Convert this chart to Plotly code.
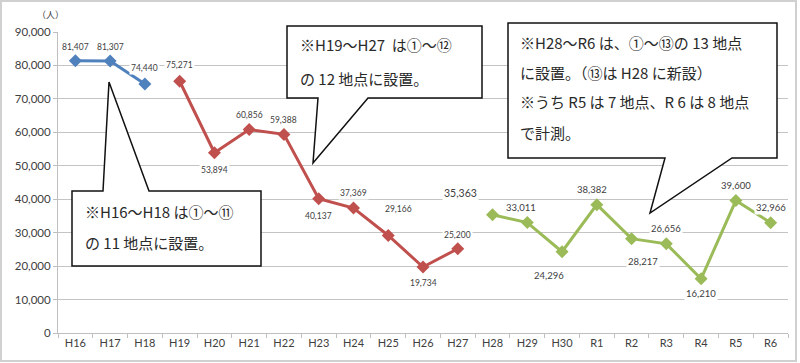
import plotly.graph_objects as go

categories = ["H16", "H17", "H18", "H19", "H20", "H21", "H22", "H23", "H24", "H25", "H26",
              "H27", "H28", "H29", "H30", "R1", "R2", "R3", "R4", "R5", "R6"]
blue_cats = ["H16", "H17", "H18"]
blue_vals = [81407, 81307, 74440]
red_cats = ["H19", "H20", "H21", "H22", "H23", "H24", "H25", "H26", "H27"]
red_vals = [75271, 53894, 60856, 59388, 40137, 37369, 29166, 19734, 25200]
green_cats = ["H28", "H29", "H30", "R1", "R2", "R3", "R4", "R5", "R6"]
green_vals = [35363, 33011, 24296, 38382, 28217, 26656, 16210, 39600, 32966]
y_ticks = [0, 10000, 20000, 30000, 40000, 50000, 60000, 70000, 80000, 90000]

# label offsets (dx, dy in px), font size
blue_lab = [(0, -14, 8.5), (0, -14, 8.5), (0, -16, 8.5)]
red_lab = [(0, -16, 8.5), (0, 17, 8.5), (0, -14, 8.5), (0, -14, 8.5), (0, 17, 8.5),
           (0, -15, 8.5), (10, -26, 8.5), (0, 16, 8.5), (0, -14, 8.5)]
green_lab = [(-32, -22, 10.5), (-6, -15, 9.5), (-13, 24, 9.5), (-5, -15, 9.5), (11, 23, 9.5),
             (0, -15, 9.5), (0, 15, 9.5), (0, -15, 9.5), (0, -15, 9.5)]

L, R, T, B = 58, 12, 32, 30
W, H = 800, 363
PW, PH = W - L - R, H - T - B


def px(x):
    return (x - L) / PW


def py(y):
    return (H - B - y) / PH


fig = go.Figure()
series = [(blue_cats, blue_vals, "#4F81BD", blue_lab),
          (red_cats, red_vals, "#C0504D", red_lab),
          (green_cats, green_vals, "#9BBB59", green_lab)]
annotations = []
for cats, vals, col, labs in series:
    fig.add_trace(go.Scatter(x=cats, y=vals, mode="lines+markers",
                             line=dict(color=col, width=3),
                             marker=dict(symbol="diamond", size=10, color=col),
                             showlegend=False, hoverinfo="x+y"))
    for c, v, (dx, dy, fs) in zip(cats, vals, labs):
        annotations.append(dict(x=c, y=v, xref="x", yref="y", text=f"{v:,}",
                                showarrow=False, xshift=dx, yshift=-dy,
                                bgcolor="white", borderpad=1,
                                font=dict(family="Lato", size=fs, color="#404040")))

annotations.append(dict(x=px(50), y=py(15), xref="paper", yref="paper", text="（人）",
                        xanchor="center", yanchor="middle", showarrow=False,
                        font=dict(family="Noto Sans CJK JP", size=9, color="#404040")))

cj = dict(family="Noto Sans CJK JP", size=15, color="#2a2a2a")
texts = [
    (83, 212, "※H16～H18 は①～⑪"),
    (83, 242, "の 11 地点に設置。"),
    (298, 45, "※H19～H27  は①～⑫"),
    (298, 78, "の 12 地点に設置。"),
    (518, 42, "※H28～R6 は、①～⑬の 13 地点"),
    (518, 72, "に設置。（⑬は H28 に新設）"),
    (518, 102, "※うち R5 は 7 地点、R 6 は 8 地点"),
    (518, 132, "で計測。"),
]
for x, y, t in texts:
    annotations.append(dict(x=px(x), y=py(y), xref="paper", yref="paper", text=t,
                            showarrow=False, xanchor="left", yanchor="middle", font=cj))


def callout(box, base, tip, side):
    x0, y0, x1, y1 = box
    b0, b1 = base
    tx, ty = tip
    if side == "top":
        pts = [(x0, y0), (b0, y0), (tx, ty), (b1, y0), (x1, y0), (x1, y1), (x0, y1)]
    else:
        pts = [(x0, y0), (x1, y0), (x1, y1), (b1, y1), (tx, ty), (b0, y1), (x0, y1)]
    path = "M " + " L ".join(f"{px(a):.5f},{py(b):.5f}" for a, b in pts) + " Z"
    return dict(type="path", path=path, xref="paper", yref="paper",
                line=dict(color="#111111", width=1.5), fillcolor="white", layer="above")


shapes = [
    callout((72, 191, 261, 266), (103, 149), (109, 82), "top"),
    callout((287, 26, 482, 98), (318, 368), (313, 163), "bottom"),
    callout((508, 23, 777, 158), (665, 732), (650, 213), "bottom"),
    dict(type="rect", xref="paper", yref="paper", x0=px(1), x1=px(796), y0=py(1), y1=py(361),
         line=dict(color="#d0d0d0", width=2), fillcolor="rgba(0,0,0,0)", layer="above"),
]

fig.update_layout(
    width=W, height=H, margin=dict(l=L, r=R, t=T, b=B, autoexpand=False),
    paper_bgcolor="white", plot_bgcolor="white",
    annotations=annotations, shapes=shapes,
    xaxis=dict(type="category", categoryorder="array", categoryarray=categories,
               range=[-0.5, len(categories) - 0.5], showgrid=False, automargin=False,
               showline=True, linecolor="#bfbfbf", linewidth=1,
               ticks="outside", tickson="boundaries", ticklen=4, tickcolor="#bfbfbf",
               tickfont=dict(family="Lato", size=11, color="#404040")),
    yaxis=dict(range=[0, 90000], tickvals=y_ticks, tickformat=",d", automargin=False,
               showgrid=True, gridcolor="#c4c4c4", gridwidth=1,
               showline=True, linecolor="#bfbfbf", linewidth=1,
               ticks="outside", ticklen=4, tickcolor="#bfbfbf", zeroline=False,
               tickfont=dict(family="Lato", size=11.5, color="#404040")),
)
fig.write_html("out.html", config={"displayModeBar": False},
               post_script="document.body.style.margin='0';")
